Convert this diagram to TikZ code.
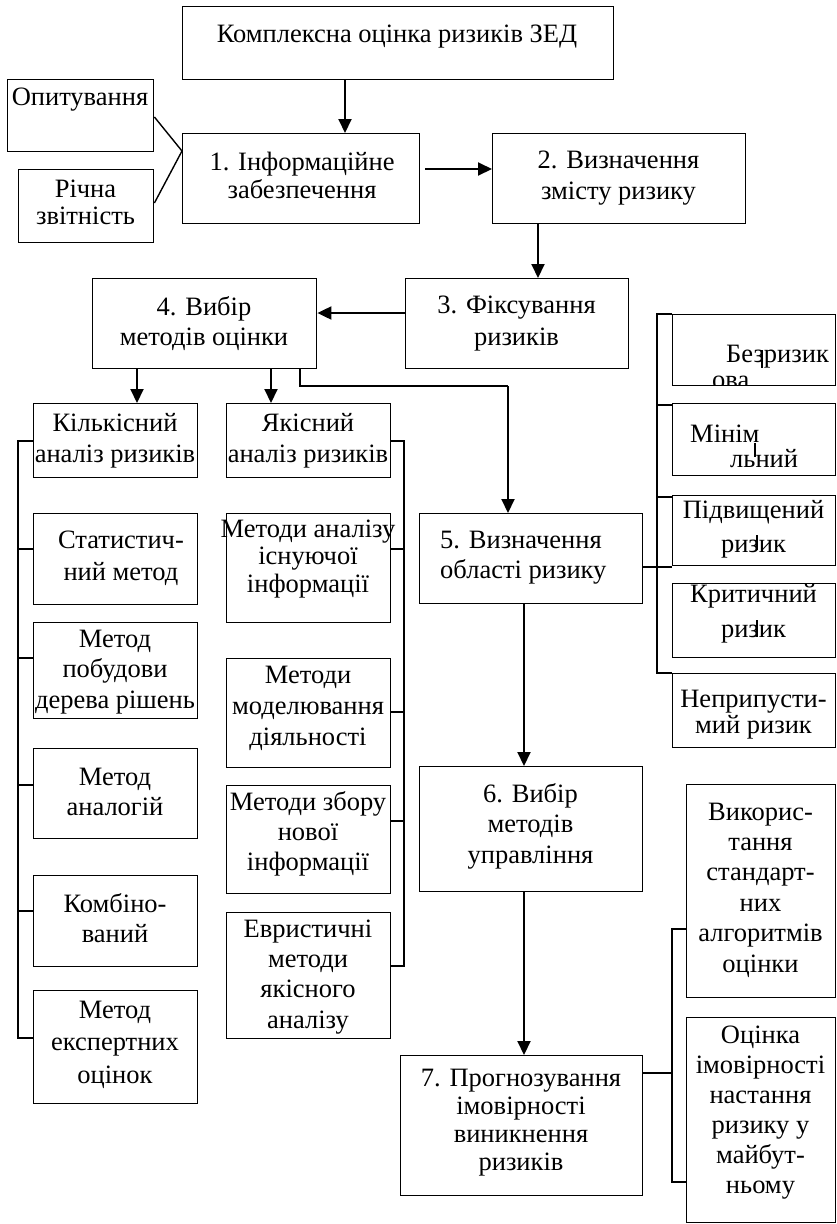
\documentclass[tikz,border=0pt]{standalone}
\usepackage{fontspec}
\setmainfont{Liberation Serif}
\usetikzlibrary{arrows.meta}
\newcommand{\fsz}{26.5}
\tikzset{
 boxst/.style={draw, line width=1.4pt, inner sep=0pt, anchor=north west},
 txt/.style={align=center, inner sep=0pt, anchor=base},
 arr/.style={line width=2pt, -{Triangle[length=14pt,width=13pt]}},
 ln/.style={line width=1.4pt},
 bar/.style={line width=1.2pt},
}
% box: name, x1, y1, x2, y2 (pixels, y downward)
\newcommand{\bx}[5]{\node[boxst, minimum width={#4-#2}, minimum height={#5-#3}] (#1) at (#2,-#3) {};}
% text: name, centre x, baseline of last line, line spacing, text
\newcommand{\tx}[5]{\node[txt, font=\fontsize{\fsz}{#4}\selectfont] (#1) at (#2,-#3) {#5};}
\begin{document}
\begin{tikzpicture}[x=1pt,y=1pt]
\useasboundingbox[fill=white] (0,0) rectangle (837,-1224);
% main chain
\bx{top}{182}{6}{613}{79}
\tx{topT}{397}{42}{25}{Комплексна оцінка ризиків ЗЕД}
\bx{op}{7}{79}{153}{151}
\tx{opT}{80}{105}{25}{Опитування}
\bx{ri}{18}{169}{153}{242}
\tx{riT}{85.5}{224}{27}{Річна\\звітність}
\bx{b1}{182}{133}{419}{223}
\tx{b1T}{302}{198}{28}{1. Інформаційне\\забезпечення}
\bx{b2}{492}{133}{745}{223}
\tx{b2T}{618.5}{199}{31}{2. Визначення\\змісту ризику}
\bx{b3}{405}{278}{628}{368}
\tx{b3T}{516.5}{345}{32}{3. Фіксування\\ризиків}
\bx{b4}{92}{278}{316}{368}
\tx{b4T}{204}{345}{30}{4. Вибір\\методів оцінки}
% left columns
\bx{kil}{33}{403}{197}{477}
\tx{kilT}{115}{462}{31}{Кількісний\\аналіз ризиків}
\bx{yak}{226}{403}{390}{477}
\tx{yakT}{308}{462}{31}{Якісний\\аналіз ризиків}
\bx{stat}{33}{513}{197}{604}
\tx{statT}{121}{580}{32}{Статистич-\\ний метод}
\bx{der}{33}{622}{197}{718}
\tx{derT}{115}{708}{30.5}{Метод\\побудови\\дерева рішень}
\bx{anl}{33}{748}{197}{838}
\tx{anlT}{115}{815}{30}{Метод\\аналогій}
\bx{komb}{33}{875}{197}{966}
\tx{kombT}{115}{942}{30}{Комбіно-\\ваний}
\bx{eksp}{33}{990}{197}{1103}
\tx{ekspT}{115}{1083}{32.5}{Метод\\експертних\\оцінок}
\bx{man}{226}{513}{390}{622}
\tx{manT}{308}{592}{27.5}{Методи аналізу\\існуючої\\інформації}
\bx{mmod}{226}{658}{390}{767}
\tx{mmodT}{308}{745}{31}{Методи\\моделювання\\діяльності}
\bx{mzb}{226}{785}{390}{893}
\tx{mzbT}{308}{870}{30}{Методи збору\\нової\\інформації}
\bx{evr}{226}{912}{390}{1038}
\tx{evrT}{308}{1028}{30.3}{Евристичні\\методи\\якісного\\аналізу}
% centre
\bx{b5}{419}{513}{642}{603}
\node[txt, align=left, anchor=base west, font=\fontsize{\fsz}{30}\selectfont] (b5T) at (440,-578) {5. Визначення\\області ризику};
\bx{b6}{419}{766}{642}{891}
\tx{b6T}{530.5}{863}{30.5}{6. Вибір\\методів\\управління}
\bx{b7}{400}{1055}{642}{1195}
\tx{b7T}{521}{1170}{27.7}{7. Прогнозування\\імовірності\\виникнення\\ризиків}
% risk levels
\bx{bez}{672}{314}{835}{385}
\node[txt, anchor=base west, font=\fontsize{\fsz}{25}\selectfont] (bezT) at (726,-362) {Безризик};
\begin{scope}
\clip (672,-314) rectangle (835,-385);
\node[txt, anchor=base west, font=\fontsize{\fsz}{25}\selectfont] (bezT2) at (712,-388) {ова};
\end{scope}
\draw[bar] (762,-350) -- (762,-368);
\bx{min}{672}{403}{835}{475}
\node[txt, anchor=base west, font=\fontsize{\fsz}{25}\selectfont] (minT) at (690,-442) {Мінім};
\node[txt, anchor=base west, font=\fontsize{\fsz}{25}\selectfont] (minT2) at (730,-467) {льний};
\draw[bar] (755,-443) -- (755,-457);
\bx{pid}{672}{495}{835}{565}
\tx{pidT}{753.5}{552}{34}{Підвищений\\ризик}
\draw[bar] (757,-535) -- (757,-550);
\bx{kr}{672}{583}{835}{657}
\tx{krT}{753.5}{637}{35}{Критичний\\ризик}
\draw[bar] (757,-620) -- (757,-637);
\bx{nep}{672}{673}{835}{747}
\tx{nepT}{753.5}{733}{26}{Неприпусти-\\мий ризик}
% management methods
\bx{vyk}{686}{784}{835}{997}
\tx{vykT}{760.5}{972}{30.4}{Викорис-\\тання\\стандарт-\\них\\алгоритмів\\оцінки}
\bx{ots}{686}{1017}{835}{1222}
\tx{otsT}{760.5}{1193}{30}{Оцінка\\імовірності\\настання\\ризику у\\майбут-\\ньому}
% connectors
\draw[arr] (top.south -| 345,0) -- (b1.north -| 345,0);
\draw[ln] (op.east |- 0,-117) -- (b1.west |- 0,-151);
\draw[ln] (ri.east |- 0,-203) -- (b1.west |- 0,-151);
\draw[arr] ([xshift=5pt]b1.east |- 0,-169) -- (b2.west |- 0,-169);
\draw[arr] (b2.south -| 538,0) -- (b3.north -| 538,0);
\draw[arr] (b3.west |- 0,-313) -- (b4.east |- 0,-313);
\draw[arr] (b4.south -| 137,0) -- (kil.north -| 137,0);
\draw[arr] (b4.south -| 271,0) -- (yak.north -| 271,0);
\coordinate (c45) at (508,-386);
\draw[ln] (b4.south -| 300,0) |- (c45);
\draw[arr] (c45) -- (b5.north -| c45);
\draw[arr] (b5.south -| 524,0) -- (b6.north -| 524,0);
\draw[arr] (b6.south -| 524,0) -- (b7.north -| 524,0);
% left bracket
\draw[ln] (kil.west |- 0,-441) -| (18,-1038) -- (eksp.west |- 0,-1038);
\draw[ln] (18,-549) -- (stat.west |- 0,-549);
\draw[ln] (18,-658) -- (der.west |- 0,-658);
\draw[ln] (18,-785) -- (anl.west |- 0,-785);
\draw[ln] (18,-911) -- (komb.west |- 0,-911);
% middle bracket
\draw[ln] (yak.east |- 0,-441) -| (404,-966) -- (evr.east |- 0,-966);
\draw[ln] (404,-549) -- (man.east |- 0,-549);
\draw[ln] (404,-712) -- (mmod.east |- 0,-712);
\draw[ln] (404,-821) -- (mzb.east |- 0,-821);
% risk bracket
\draw[ln] (bez.west |- 0,-314) -| (657,-673) -- (nep.west |- 0,-673);
\draw[ln] (657,-405) -- (min.west |- 0,-405);
\draw[ln] (657,-497) -- (pid.west |- 0,-497);
\draw[ln] (b5.east |- 0,-567) -- (pid.west |- 0,-567);
% management bracket
\draw[ln] (vyk.west |- 0,-929) -| (672,-1182) -- (ots.west |- 0,-1182);
\draw[ln] (b7.east |- 0,-1073) -- (672,-1073);
\end{tikzpicture}
\end{document}
